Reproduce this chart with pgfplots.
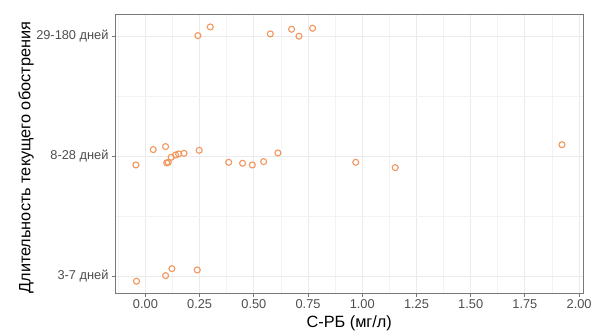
\documentclass[border=0pt]{standalone}
\usepackage{pgfplots}
\pgfplotsset{compat=1.18}
\usepackage{fontspec}
\setmainfont{Liberation Sans}
\definecolor{pt}{RGB}{241,150,92}
\definecolor{gridmaj}{RGB}{235,235,235}
\definecolor{gridmin}{RGB}{243,243,243}
\definecolor{frame}{RGB}{120,120,120}
\definecolor{ticktxt}{RGB}{77,77,77}
\begin{document}
\begin{tikzpicture}
\begin{axis}[
  scale only axis,
  width=467.5bp, height=279bp,
  xmin=-0.138, xmax=2.018,
  ymin=0.858, ymax=3.183,
  xtick={0,0.25,...,2.0},
  minor xtick={-0.125,0.125,0.375,...,2.0},
  ytick={1,2,3},
  yticklabels={3-7 дней,8-28 дней,29-180 дней},
  minor ytick={1.5,2.5},
  grid=both,
  major grid style={draw=gridmaj, line width=0.9bp},
  minor grid style={draw=gridmin, line width=0.6bp},
  axis line style={draw=frame, line width=0.8bp},
  tick align=outside,
  tick pos=left,
  major tick length=3.5bp,
  minor tick length=0pt,
  tick style={draw=frame, line width=0.8bp},
  /pgf/number format/assume math mode=true,
  xticklabel style={/pgf/number format/.cd, fixed, fixed zerofill, precision=2},
  tick label style={font=\fontsize{12.8bp}{15bp}\selectfont, text=ticktxt},
  xticklabel shift=0bp,
  yticklabel shift=0bp,
  xlabel={С-РБ (мг/л)},
  ylabel={Длительность текущего обострения},
  label style={font=\fontsize{16.3bp}{19bp}\selectfont},
  xlabel style={at={(axis description cs:0.5,0)}, anchor=center, yshift=-30bp},
  ylabel style={at={(axis description cs:-0.1914,0.485)}, anchor=center},
  clip=false,
]
\addplot[only marks, mark=o, mark size=3bp, mark options={draw=pt, line width=1.1bp}] coordinates {
(0.242,3.003) (0.299,3.075) (0.576,3.017) (0.674,3.056) (0.708,2.998) (0.771,3.064)
(-0.044,1.925) (0.036,2.053) (0.093,2.078) (0.098,1.942) (0.105,1.947) (0.119,1.989)
(0.139,2.008) (0.153,2.017) (0.178,2.022) (0.248,2.047) (0.384,1.947) (0.448,1.939)
(0.493,1.925) (0.545,1.953) (0.611,2.025) (0.970,1.947) (1.152,1.903) (1.921,2.094)
(-0.041,0.956) (0.093,1.003) (0.122,1.061) (0.239,1.050)
};
\end{axis}
\pgfresetboundingbox
\useasboundingbox ([xshift=-115.5bp,yshift=-38bp]current axis.south west) rectangle ([xshift=13bp,yshift=14bp]current axis.north east);
\end{tikzpicture}
\end{document}
